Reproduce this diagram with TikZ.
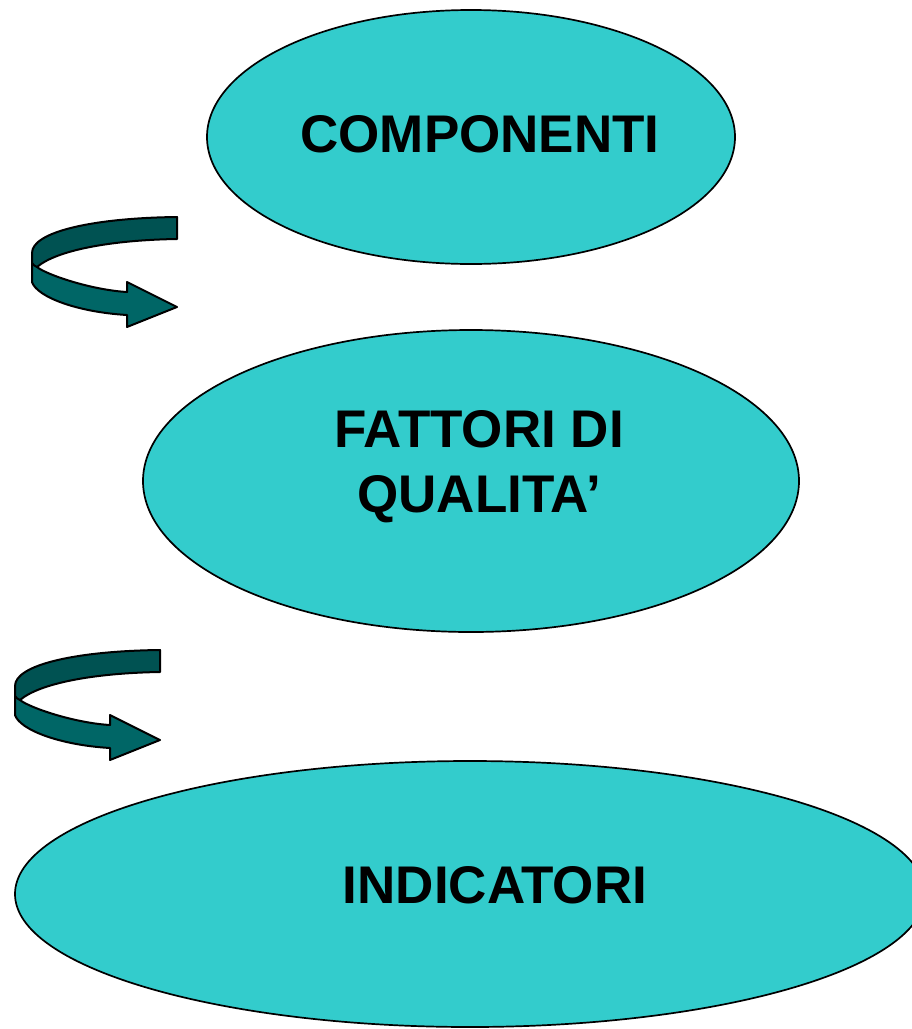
\documentclass[tikz,border=0pt]{standalone}
\usepackage{fontspec}
\setmainfont{Liberation Sans}
\usetikzlibrary{shapes.geometric}
\definecolor{ellfill}{HTML}{33CCCC}
\definecolor{banddark}{HTML}{005252}
\definecolor{bandlight}{HTML}{006666}
\tikzset{
  ell/.style={ellipse, draw=black, line width=1.7pt, fill=ellfill, inner sep=0pt},
  lbl/.style={font=\fontsize{53}{65}\selectfont\bfseries, text=black, align=center, inner sep=0pt},
  band/.style={draw=black, line width=2pt, line join=round},
  pics/turnarrow/.style={code={
    \path[band, fill=bandlight] (0,40) -- (0,65) .. controls (5,80) and (45,95) .. (95,98)
      -- (95,110) -- (145,90) -- (95,65) -- (95,75)
      .. controls (60,73) and (15,58) .. (5,50) -- cycle;
    \path[band, fill=banddark] (145,0) .. controls (60,1) and (0,15) .. (0,36) -- (0,46)
      .. controls (1,48) and (3,49) .. (5,50)
      .. controls (25,33) and (80,23) .. (145,22) -- cycle;
  }}
}
\begin{document}
\begin{tikzpicture}[x=1pt, y=-1pt]
\useasboundingbox (0,0) rectangle (912,1029);
\node[ell, minimum width=528pt, minimum height=254pt] (comp) at (471,137) {};
\node[ell, minimum width=656pt, minimum height=302pt] (fatt) at (471,481) {};
\node[ell, minimum width=910pt, minimum height=266pt] (ind) at (470,894) {};
\node[lbl, anchor=base] (tcomp) at (480,152) {COMPONENTI};
\node[lbl, anchor=center] (tfatt) at (479,467) {FATTORI DI\\QUALITA’};
\node[lbl, anchor=base] (tind) at (495,903) {INDICATORI};
\pic (arr1) at (32,217) {turnarrow};
\pic (arr2) at (15,650) {turnarrow};
\end{tikzpicture}
\end{document}
